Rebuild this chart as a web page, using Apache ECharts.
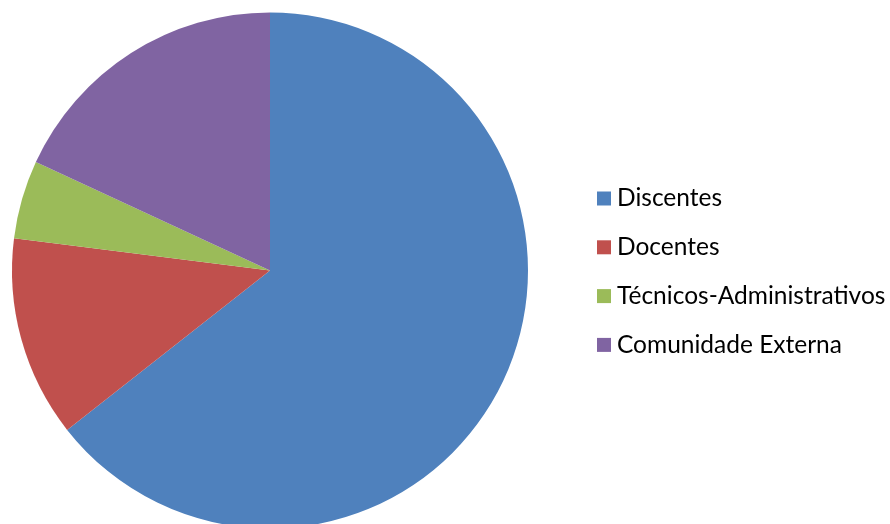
<!DOCTYPE html>
<html>
<head>
<meta charset="utf-8">
<script src="https://cdn.jsdelivr.net/npm/echarts@6/dist/echarts.min.js"></script>
<style>html,body{margin:0;padding:0;background:#fff;}#c{width:890px;height:524px;}</style>
</head>
<body>
<div id="c"></div>
<script>
const categories = ['Discentes', 'Docentes', 'Técnicos-Administrativos', 'Comunidade Externa'];
const values = [64.4, 12.6, 4.9, 18.1];
const colors = ['#4F81BD', '#C0504D', '#9BBB59', '#8064A2'];

const chart = echarts.init(document.getElementById('c'), null, {renderer: 'canvas'});
chart.setOption({
  animation: false,
  color: colors,
  legend: {
    orient: 'vertical',
    left: 592,
    top: 181,
    padding: 5,
    itemWidth: 14,
    itemHeight: 14,
    itemGap: 23.8,
    icon: 'rect',
    selectedMode: false,
    textStyle: {fontFamily: 'Lato', fontSize: 24.5, color: '#000', padding: [0, 0, 0, 1]},
    data: categories
  },
  series: [{
    type: 'pie',
    center: [270, 270.5],
    radius: [0, 258],
    startAngle: 90,
    clockwise: true,
    label: {show: false},
    labelLine: {show: false},
    itemStyle: {borderWidth: 0},
    emphasis: {disabled: true},
    data: categories.map((n, i) => ({name: n, value: values[i]}))
  }]
});
</script>
</body>
</html>
